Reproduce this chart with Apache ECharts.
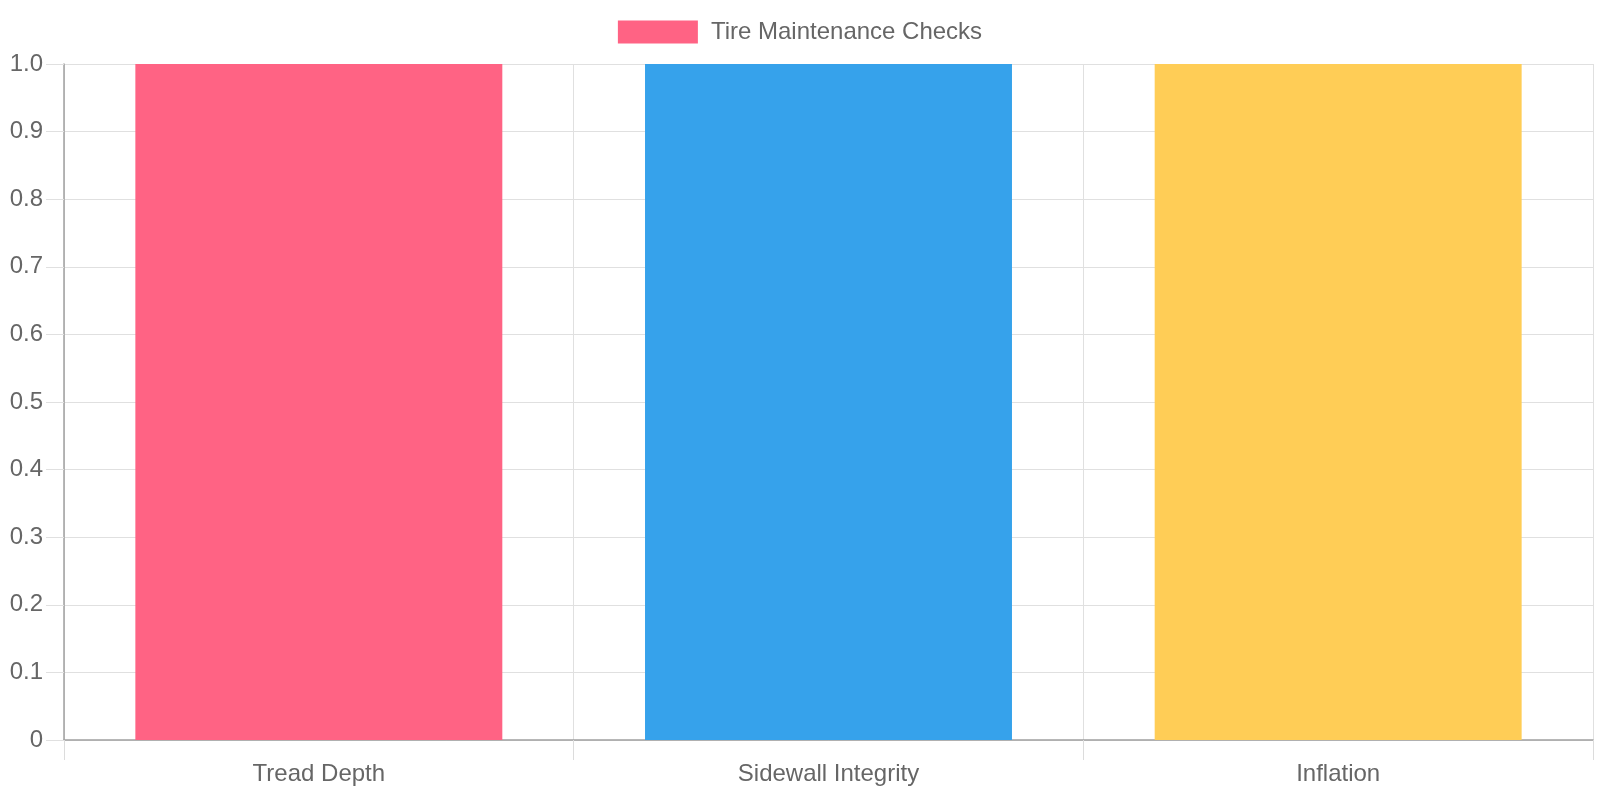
<!DOCTYPE html>
<html>
<head>
<meta charset="utf-8">
<script src="https://cdn.jsdelivr.net/npm/echarts@6/dist/echarts.min.js"></script>
<style>html,body{margin:0;padding:0;background:#fff;}#c{width:1600px;height:800px;}</style>
</head>
<body>
<div id="c"></div>
<script>
const categories = ["Tread Depth", "Sidewall Integrity", "Inflation"];
const values = [1, 1, 1];
const barColors = ["#FF6384", "#36A2EB", "#FFCD56"];
const seriesName = "Tire Maintenance Checks";

const chart = echarts.init(document.getElementById('c'));
chart.setOption({
  animation: false,
  textStyle: { fontFamily: "Liberation Sans, Arial, sans-serif" },
  legend: {
    top: 15, left: 'center',
    itemWidth: 80, itemHeight: 23, itemGap: 10,
    icon: 'rect',
    textStyle: { color: '#666', fontSize: 24, padding: [0, 0, 0, 8], fontFamily: "Liberation Sans, Arial, sans-serif" },
    data: [seriesName]
  },
  grid: { left: 64, right: 7, top: 64, bottom: 60, containLabel: false },
  xAxis: {
    type: 'category',
    data: categories,
    boundaryGap: true,
    axisLine: { show: true, lineStyle: { color: '#a0a0a0', width: 1.5 } },
    axisTick: { show: true, length: 20, lineStyle: { color: '#dcdcdc' } },
    axisLabel: { color: '#666', fontSize: 24, margin: 22, fontFamily: "Liberation Sans, Arial, sans-serif" },
    splitLine: { show: true, lineStyle: { color: '#e0e0e0' } }
  },
  yAxis: {
    type: 'value',
    min: 0, max: 1, interval: 0.1,
    axisLine: { show: true, lineStyle: { color: '#a0a0a0', width: 1.5 } },
    axisTick: { show: true, length: 18, lineStyle: { color: '#e0e0e0' } },
    axisLabel: {
      color: '#666', fontSize: 24, margin: 21, fontFamily: "Liberation Sans, Arial, sans-serif",
      formatter: v => v === 0 ? '0' : v.toFixed(1)
    },
    splitLine: { show: true, lineStyle: { color: '#e0e0e0' } }
  },
  series: [{
    name: seriesName,
    type: 'bar',
    barWidth: '72%',
    itemStyle: { color: barColors[0] },
    data: values.map((v, i) => ({ value: v, itemStyle: { color: barColors[i] } }))
  }]
});
</script>
</body>
</html>
